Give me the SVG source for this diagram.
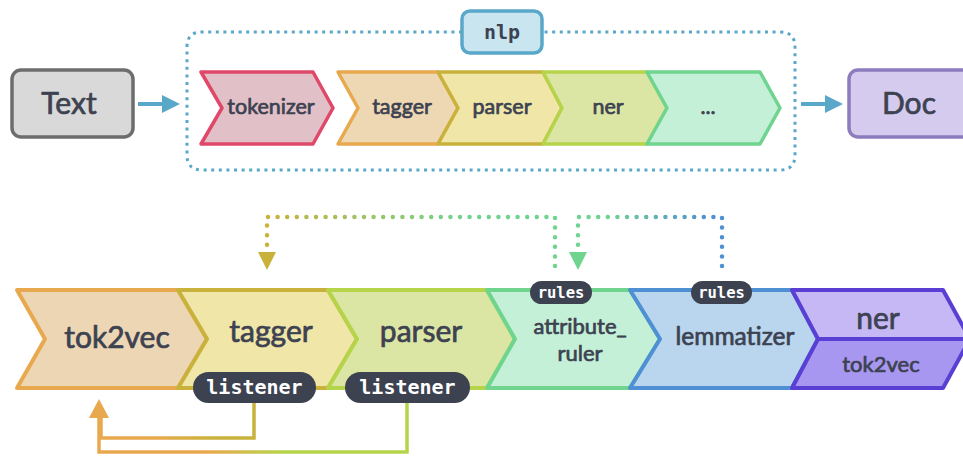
<svg xmlns="http://www.w3.org/2000/svg" width="963" height="456" viewBox="0 0 963 456">
<style>
.lbl{font-family:Lato,"Noto Sans","Liberation Sans",sans-serif;font-weight:normal;fill:#3d4251;stroke:#3d4251;stroke-width:0.7;stroke-linejoin:round;text-anchor:middle}
.mono{font-family:"DejaVu Sans Mono","Liberation Mono",monospace;font-weight:bold;text-anchor:middle}
.pill{fill:#3d4251}
.pilltxt{font-family:"DejaVu Sans Mono","Liberation Mono",monospace;font-weight:bold;fill:#ffffff;text-anchor:middle}
.chev{stroke-width:3.5;stroke-linejoin:round}
.chevb{stroke-width:4;stroke-linejoin:round}
</style>
<defs>
<linearGradient id="gInner" gradientUnits="userSpaceOnUse" x1="101" y1="0" x2="254" y2="0">
<stop offset="0.35" stop-color="#e8a94e"/><stop offset="0.75" stop-color="#c9b23c"/>
</linearGradient>
<linearGradient id="gOuter" gradientUnits="userSpaceOnUse" x1="99" y1="0" x2="407" y2="0">
<stop offset="0.35" stop-color="#e8a94e"/><stop offset="0.6" stop-color="#b6d44a"/>
</linearGradient>
<linearGradient id="gDotL" gradientUnits="userSpaceOnUse" x1="267" y1="0" x2="555" y2="0">
<stop offset="0" stop-color="#c9b23c"/><stop offset="0.7" stop-color="#6fd48e"/>
</linearGradient>
<linearGradient id="gDotR" gradientUnits="userSpaceOnUse" x1="578" y1="0" x2="722" y2="0">
<stop offset="0.2" stop-color="#6fd48e"/><stop offset="0.9" stop-color="#4f8fd4"/>
</linearGradient>
</defs>

<g id="connectors">
<path d="M138,104 H166" stroke="#5aa8c9" stroke-width="4" fill="none"/>
<polygon points="162,95 180,104 162,113" fill="#5aa8c9"/>
<path d="M801,104 H829" stroke="#5aa8c9" stroke-width="4" fill="none"/>
<polygon points="825,95 843,104 825,113" fill="#5aa8c9"/>
<path d="M462,32 H202 Q187,32 187,47 V155 Q187,170 202,170 H780 Q795,170 795,155 V47 Q795,32 780,32 H542" fill="none" stroke="#5aa8c9" stroke-width="3" stroke-dasharray="3 4.6"/>
<path d="M555,266 V217 H267 V250" fill="none" stroke="url(#gDotL)" stroke-width="4.5" stroke-linecap="round" stroke-dasharray="0 9.6"/>
<polygon points="258,252 276,252 267,270" fill="#c9b23c"/>
<path d="M722,266 V217 H578 V250" fill="none" stroke="url(#gDotR)" stroke-width="4.5" stroke-linecap="round" stroke-dasharray="0 9.6"/>
<polygon points="569,252 587,252 578,270" fill="#6fd48e"/>
<path d="M254,403 V438 H101 V418" fill="none" stroke="url(#gInner)" stroke-width="3.5"/>
<path d="M407,403 V452 H99 V418" fill="none" stroke="url(#gOuter)" stroke-width="3.5"/>
<polygon points="89,418 109,418 99,399" fill="#e8a94e"/>
</g>

<g id="text-input">
<rect x="12" y="70" width="121" height="67" rx="9" fill="#d9d9d9" stroke="#6d6d6d" stroke-width="3.5"/>
<text class="lbl" x="69" y="114" font-size="30">Text</text>
</g>

<g id="nlp-label">
<rect x="462" y="11" width="80" height="42" rx="8" fill="#c9e5f0" stroke="#5aa8c9" stroke-width="3.5"/>
<text class="mono" x="502" y="39" font-size="20" fill="#3d4251">nlp</text>
</g>

<g id="top-tokenizer">
<polygon class="chev" points="201,72 313,72 333,108 313,144 201,144 222,108" fill="#e2c0c8" stroke="#e0486a"/>
<text class="lbl" x="271" y="114" font-size="21.5">tokenizer</text>
</g>
<g id="top-tagger">
<polygon class="chev" points="338,72 438,72 458,108 438,144 338,144 358,108" fill="#eed8b4" stroke="#e8a94e"/>
<text class="lbl" x="402" y="114" font-size="21.5">tagger</text>
</g>
<g id="top-parser">
<polygon class="chev" points="438,72 543,72 562,108 543,144 438,144 458,108" fill="#efe6a8" stroke="#c9b23c"/>
<text class="lbl" x="502" y="114" font-size="21.5">parser</text>
</g>
<g id="top-ner">
<polygon class="chev" points="543,72 647,72 667,108 647,144 543,144 562,108" fill="#dce6a4" stroke="#b6d44a"/>
<text class="lbl" x="608" y="114" font-size="21.5">ner</text>
</g>
<g id="top-more">
<polygon class="chev" points="647,72 760,72 780,108 760,144 647,144 667,108" fill="#c3f0d6" stroke="#6fd48e"/>
<text class="lbl" x="708" y="114" font-size="21.5">...</text>
</g>

<g id="doc-output">
<rect x="849" y="70" width="130" height="67" rx="9" fill="#d5cbef" stroke="#8c7bbd" stroke-width="3.5"/>
<text class="lbl" x="909" y="114" font-size="30">Doc</text>
</g>

<g id="tok2vec">
<polygon class="chevb" points="17,290 178,290 207,339 178,388 17,388 45,339" fill="#edd6b4" stroke="#e8a94e"/>
<text class="lbl" x="117" y="348" font-size="30">tok2vec</text>
</g>
<g id="tagger">
<polygon class="chevb" points="178,290 328,290 357,339 328,388 178,388 207,339" fill="#efe6a8" stroke="#c9b23c"/>
<text class="lbl" x="271" y="342" font-size="30">tagger</text>
<rect class="pill" x="193" y="372" width="123" height="31" rx="15.5"/>
<text class="pilltxt" x="254.5" y="394" font-size="20">listener</text>
</g>
<g id="parser">
<polygon class="chevb" points="328,290 487,290 515,339 487,388 328,388 357,339" fill="#dce6a4" stroke="#b6d44a"/>
<text class="lbl" x="421" y="342" font-size="30">parser</text>
<rect class="pill" x="345" y="372" width="125" height="31" rx="15.5"/>
<text class="pilltxt" x="407.5" y="394" font-size="20">listener</text>
</g>
<g id="attribute_ruler">
<polygon class="chevb" points="487,290 630,290 660,339 630,388 487,388 515,339" fill="#c3f0d6" stroke="#6fd48e"/>
<text class="lbl" font-size="22"><tspan x="580" y="334">attribute_</tspan><tspan x="580" y="361">ruler</tspan></text>
<rect class="pill" x="530" y="281" width="62" height="23" rx="11.5"/>
<text class="pilltxt" x="561" y="298" font-size="15.5">rules</text>
</g>
<g id="lemmatizer">
<polygon class="chevb" points="630,290 792,290 818,339 792,388 630,388 660,339" fill="#b9d6ee" stroke="#4f8fd4"/>
<text class="lbl" x="735" y="345" font-size="24.5">lemmatizer</text>
<rect class="pill" x="691" y="281" width="61" height="23" rx="11.5"/>
<text class="pilltxt" x="721.5" y="298" font-size="15.5">rules</text>
</g>
<g id="ner">
<polygon class="chevb" points="792,290 943,290 970,339 818,339" fill="#c6b8f5" stroke="#5a3fd4"/>
<polygon class="chevb" points="818,339 970,339 943,388 792,388" fill="#a897f0" stroke="#5a3fd4"/>
<text class="lbl" x="878" y="329" font-size="30">ner</text>
<text class="lbl" x="881" y="372" font-size="22">tok2vec</text>
</g>
</svg>
